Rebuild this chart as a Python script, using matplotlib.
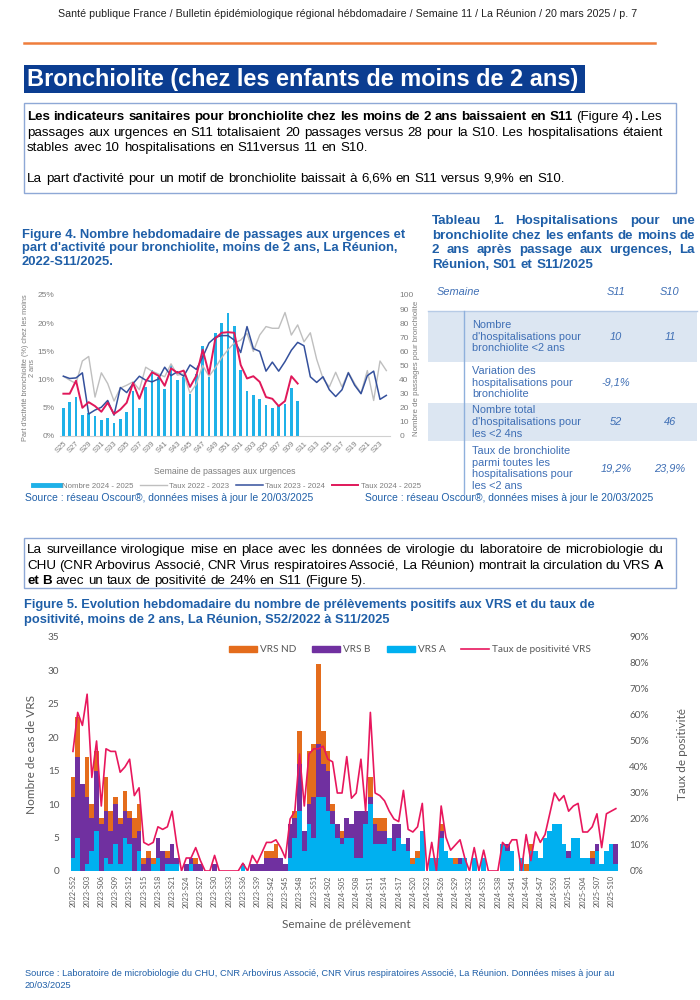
import numpy as np
import matplotlib
matplotlib.use("Agg")
import matplotlib.pyplot as plt
from matplotlib import font_manager
from matplotlib.patches import Rectangle, Patch
from matplotlib.lines import Line2D

avail = {f.name for f in font_manager.fontManager.ttflist}
NARROW = 'Liberation Sans Narrow' if 'Liberation Sans Narrow' in avail else 'Liberation Sans'
ARIAL = 'Liberation Sans'
CAL = 'Lato' if 'Lato' in avail else 'DejaVu Sans'

# ---------------- data : figure 4 ----------------
weeks4 = [f"S{w:02d}" for w in list(range(25, 53)) + list(range(1, 25))]
nb_2024_25 = [20, 24, 28, 15, 16, 14, 11, 13, 9, 12, 17, 32, 20, 35, 47, 42, 33, 50, 40, 42,
              30, 44, 64, 42, 73, 80, 87, 78, 47, 32, 29, 26, 22, 20, 21, 23, 34, 25]
taux_2022_23 = [10.6, 9.9, 9.3, 13.3, 14.1, 6.9, 11.2, 9.3, 6.2, 8.5, 9.0, 9.6, 8.2, 12.2,
                11.5, 11.0, 10.5, 12.8, 10.8, 11.0, 7.6, 9.2, 12.5, 10.6, 12.1, 13.9, 15.3, 16.5,
                17.0, 18.2, 15.0, 17.9, 19.4, 19.1, 19.1, 21.9, 17.9, 19.7, 16.7, 18.3, 13.6, 10.2,
                8.7, 11.3, 8.7, 11.3, 9.3, 7.6, 11.6, 6.3, 13.3, 11.6]
taux_2023_24 = [10.6, 10.2, 10.3, 11.2, 3.9, 4.6, 5.1, 6.3, 3.7, 8.6, 7.7, 9.3, 10.6, 9.9,
                9.6, 10.1, 12.2, 10.7, 11.4, 10.6, 12.6, 11.8, 14.0, 16.5, 17.5, 17.8, 17.8, 17.0,
                14.8, 19.4, 15.5, 15.0, 11.5, 13.1, 11.5, 13.2, 15.2, 16.6, 16.0, 10.5, 9.5, 10.5,
                8.2, 7.0, 8.2, 11.2, 9.0, 7.5, 10.7, 11.5, 6.5, 7.2]
taux_2024_25 = [7.5, 7.5, 9.8, 5.0, 6.0, 5.3, 4.3, 5.9, 3.9, 4.7, 5.9, 9.4, 6.6, 9.6,
                11.3, 10.7, 8.9, 12.0, 11.2, 11.6, 8.7, 10.7, 15.3, 11.0, 17.3, 18.3, 18.4, 18.3,
                12.6, 10.2, 10.6, 9.6, 6.9, 6.6, 5.3, 6.2, 10.6, 9.3]

# ---------------- data : tableau 1 ----------------
tab_rows = ["Nombre\nd'hospitalisations pour\nbronchiolite <2 ans",
            "Variation des\nhospitalisations pour\nbronchiolite",
            "Nombre total\nd'hospitalisations pour\nles <2 4ns",
            "Taux de bronchiolite\nparmi toutes les\nhospitalisations pour\nles <2 ans"]
tab_s11 = ["10", "-9,1%", "52", "19,2%"]
tab_s10 = ["11", "", "46", "23,9%"]

# ---------------- data : figure 5 ----------------
weeks5 = (["2022-S52"] + [f"2023-S{w:02d}" for w in range(1, 53)]
          + [f"2024-S{w:02d}" for w in range(1, 53)] + [f"2025-S{w:02d}" for w in range(1, 12)])
vrs_a = [2, 5, 0, 1, 3, 6, 0, 2, 1, 4,   1, 5, 4, 0, 3, 0, 0, 1, 2, 0,
         1, 1, 1, 0, 0, 1, 0, 0, 0, 0,   0, 0, 0, 0, 0, 0, 1, 0, 0, 0,
         0, 0, 0, 0, 0, 0, 2, 5, 9, 3,   7, 5, 11, 11, 9, 7, 5, 4, 5, 5,
         2, 2, 7, 10, 4, 4, 4, 5, 3, 5,  4, 3, 1, 2, 6, 0, 2, 2, 5, 3,
         2, 1, 1, 2, 0, 2, 0, 2, 0, 0,   0, 4, 3, 3, 0, 2, 0, 3, 3, 2,
         5, 6, 7, 7, 4, 2, 5, 5, 2, 2,   1, 3, 1, 3, 4, 1]
vrs_b = [9, 12, 13, 10, 5, 9, 7, 7, 5, 6,  6, 4, 4, 5, 3, 1, 2, 0, 3, 3,
         1, 3, 1, 0, 1, 1, 1, 1, 0, 0,   1, 0, 0, 0, 0, 0, 0, 0, 1, 1,
         1, 2, 2, 2, 2, 1, 5, 3, 7, 3,   3, 6, 8, 5, 6, 2, 2, 1, 3, 2,
         7, 7, 2, 1, 3, 2, 2, 0, 4, 2,   0, 2, 0, 0, 0, 0, 0, 0, 1, 0,
         0, 0, 1, 0, 0, 0, 0, 0, 0, 0,   0, 0, 1, 0, 0, 0, 0, 0, 0, 0,
         0, 0, 0, 0, 0, 1, 0, 0, 0, 0,   1, 1, 0, 0, 0, 3]
vrs_nd = [3, 6, 0, 6, 2, 3, 1, 5, 3, 1,  1, 3, 1, 3, 4, 1, 1, 1, 0, 0,
          1, 0, 0, 0, 0, 0, 1, 0, 0, 0,  0, 0, 0, 0, 0, 0, 0, 0, 0, 0,
          0, 1, 1, 2, 0, 0, 0, 1, 5, 0,  8, 8, 12, 5, 3, 1, 0, 1, 0, 0,
          0, 0, 0, 3, 1, 2, 2, 0, 0, 0,  0, 0, 1, 1, 0, 0, 0, 0, 1, 0,
          0, 1, 0, 0, 0, 0, 0, 0, 0, 0,  0, 0, 0, 0, 0, 0, 1, 1, 0, 0,
          0, 0, 0, 0, 0, 0, 0, 0, 0, 0,  1, 0, 0, 0, 0, 0]
taux_pos = [46, 61, 56, 68, 36, 50, 25, 47, 46, 46,  38, 40, 43, 29, 32, 11, 10, 11, 17, 16,
            17, 23, 10, 0, 5, 5, 9, 4, 0, 0,   6, 0, 0, 0, 0, 0, 3, 0, 6, 3,
            7, 11, 11, 12, 9, 5, 20, 23, 45, 25,   45, 47, 47, 48, 43, 42, 30, 30, 44, 28,
            30, 43, 23, 61, 30, 29, 27, 23, 20, 19,   31, 16, 15, 17, 26, 0, 11, 0, 25, 13,
            8, 10, 12, 5, 0, 9, 0, 8, 0, 0,   0, 11, 9, 12, 12, 0, 14, 4, 15, 11,
            14, 22, 30, 27, 29, 23, 25, 26, 15, 15,   17, 22, 9, 22, 23, 24]

# ---------------- page helpers ----------------
W, H = 700, 1000
fig = plt.figure(figsize=(7, 10), dpi=100)
R = fig.canvas.get_renderer()


def fx(x):
    return x / W


def fy(y):
    return 1 - y / H


def measure(s, size, weight='normal', family=ARIAL, style='normal'):
    t = fig.text(0, 0, s, fontsize=size, fontweight=weight, family=family, fontstyle=style)
    w = t.get_window_extent(R).width
    t.remove()
    return w


def fit(s, width, weight='normal', family=ARIAL, style='normal'):
    return 10 * width / measure(s, 10, weight, family, style)


def tok(s, weight='normal'):
    return [[(w, weight)] for w in s.split()]


def put_line(x0, yb, tokens, size, color, family, x1=None):
    ws = [sum(measure(t, size, wt, family) for t, wt in tk) for tk in tokens]
    if x1 is not None and len(tokens) > 1:
        gap = (x1 - x0 - sum(ws)) / (len(tokens) - 1)
    else:
        gap = measure('a a', size, family=family) - measure('aa', size, family=family)
    x = x0
    for tk, w in zip(tokens, ws):
        xx = x
        for t, wt in tk:
            fig.text(fx(xx), fy(yb), t, fontsize=size, fontweight=wt, family=family,
                     color=color, ha='left', va='baseline')
            xx += measure(t, size, wt, family)
        x += w + gap


BLUE_T = '#1f5fa8'

# header
hdr = "Santé publique France / Bulletin épidémiologique régional hébdomadaire / Semaine 11 / La Réunion / 20 mars 2025 / p. 7"
fig.text(fx(58), fy(17), hdr, fontsize=fit(hdr, 570, family=NARROW), family=NARROW,
         color='#222222', ha='left', va='baseline')
fig.add_artist(Line2D([fx(24), fx(655)], [fy(43), fy(43)], color='#ef7d3c', lw=1.8))

# title box
fig.add_artist(Rectangle((fx(24), fy(93)), fx(561), 28 / H, color='#0b3d91', lw=0))
ttl = "Bronchiolite (chez les enfants de moins de 2 ans)"
fig.text(fx(27), fy(86), ttl, fontsize=fit(ttl, 552, 'bold', NARROW), fontweight='bold',
         family=NARROW, color='white', ha='left', va='baseline')

# text box 1
fig.add_artist(Rectangle((fx(24), fy(193)), fx(652), 90 / H, fill=False, ec='#8ea8d6', lw=1))
l5 = "La part d'activité pour un motif de bronchiolite baissait à 6,6% en S11 versus 9,9% en S10."
bs = fit(l5, 540, family=NARROW)
line1 = (tok("Les indicateurs sanitaires pour bronchiolite chez les moins de 2 ans baissaient en S11", 'bold')
         + [[("(Figure", 'normal')], [("4)", 'normal'), (".", 'bold')], [("Les", 'normal')]])
put_line(27, 120, line1, bs, 'black', NARROW, x1=663)
put_line(27, 136, tok("passages aux urgences en S11 totalisaient 20 passages versus 28 pour la S10. Les hospitalisations étaient"),
         bs, 'black', NARROW, x1=663)
put_line(27, 151, tok("stables avec 10 hospitalisations en S11versus 11 en S10."), bs, 'black', NARROW)
put_line(27, 182, tok(l5), bs, 'black', NARROW)

# figure 4 title
f4 = ["Figure 4. Nombre hebdomadaire de passages aux urgences et",
      "part d'activité pour bronchiolite, moins de 2 ans, La Réunion,",
      "2022-S11/2025."]
s4 = fit(f4[1], 377, 'bold')
for i, l in enumerate(f4):
    fig.text(fx(22), fy(238 + 13.5 * i), l, fontsize=s4, fontweight='bold', family=ARIAL,
             color=BLUE_T, ha='left', va='baseline')

# tableau 1 title (justified)
t1 = ["Tableau 1. Hospitalisations pour une", "bronchiolite chez les enfants de moins de",
      "2 ans après passage aux urgences, La", "Réunion, S01 et S11/2025"]
st = fit(t1[3], 160, 'bold')
for i, l in enumerate(t1):
    put_line(432, 224 + 14.6 * i, tok(l, 'bold'), st, BLUE_T, ARIAL, x1=695 if i < 3 else None)

# table
TC = '#3f6fb5'
ts = fit("d'hospitalisations pour", 108)
fig.text(fx(437), fy(292), "Semaine", fontsize=ts, fontstyle='italic', color=TC, family=ARIAL, va='center')
fig.text(fx(616), fy(292), "S11", fontsize=ts, fontstyle='italic', color=TC, family=ARIAL, va='center', ha='center')
fig.text(fx(670), fy(292), "S10", fontsize=ts, fontstyle='italic', color=TC, family=ARIAL, va='center', ha='center')
bands = [(311, 362), (362, 403), (403, 441), (441, 492)]
for k, (a, b) in enumerate(bands):
    if k % 2 == 0:
        fig.add_artist(Rectangle((fx(428), fy(b)), fx(269), (b - a) / H, color='#dce6f2', lw=0))
    yc = (a + b) / 2 + (2 if k == 3 else 0)
    fig.text(fx(472), fy(yc), tab_rows[k], fontsize=ts, color=TC, family=ARIAL, va='center',
             ha='left', linespacing=1.22)
    fig.text(fx(616), fy(yc), tab_s11[k], fontsize=ts, fontstyle='italic', color=TC,
             family=ARIAL, va='center', ha='center')
    fig.text(fx(670), fy(yc), tab_s10[k], fontsize=ts, fontstyle='italic', color=TC,
             family=ARIAL, va='center', ha='center')
fig.add_artist(Line2D([fx(428), fx(697)], [fy(311), fy(311)], color='#b7cbe6', lw=1))
fig.add_artist(Line2D([fx(464), fx(464)], [fy(311), fy(494)], color='#8fb0dc', lw=1))

# figure 4 chart : bars on the right axis, rates on the left axis
ax4 = fig.add_axes([fx(60.2), fy(436), fx(329.3), (436 - 295) / H])
x4 = np.arange(len(weeks4))
ax4.bar(np.arange(len(nb_2024_25)), nb_2024_25, width=0.45, color='#1fb1e8', zorder=2)
ax4.set_ylim(0, 100)
ax4.set_xlim(-0.5, len(weeks4) - 0.5)
axl = ax4.twinx()
ax4.yaxis.tick_right()
ax4.yaxis.set_label_position('right')
axl.yaxis.tick_left()
axl.yaxis.set_label_position('left')
axl.plot(x4, taux_2022_23, color='#bfbfbf', lw=1.0)
axl.plot(x4, taux_2023_24, color='#34509c', lw=1.1)
axl.plot(np.arange(len(taux_2024_25)), taux_2024_25, color='#e0185a', lw=1.4)
axl.set_ylim(0, 25)
gs = 6.0
axl.set_yticks(range(0, 30, 5))
axl.set_yticklabels([f"{v}%" for v in range(0, 30, 5)])
ax4.set_yticks(range(0, 110, 10))
for axx in (ax4, axl):
    for s in axx.spines.values():
        s.set_visible(False)
    axx.tick_params(length=0, labelsize=gs, labelcolor='#7f7f7f')
ax4.spines['bottom'].set_visible(True)
ax4.spines['bottom'].set_color('#d0d0d0')
ax4.tick_params(axis='y', pad=7, labelleft=False, labelright=True)
axl.tick_params(axis='y', pad=4, labelleft=True, labelright=False)
ax4.set_xticks(x4[::2])
ax4.set_xticklabels(weeks4[::2], rotation=45, ha='right', rotation_mode='anchor', fontsize=5.5,
                    color='#7f7f7f', family=ARIAL)
ax4.tick_params(axis='x', pad=3)
for t in ax4.get_yticklabels() + axl.get_yticklabels():
    t.set_family(ARIAL)
yl = "Part d'activité bronchiolite (%) chez les moins"
fig.text(fx(29), fy(368), yl + "\n2 ans", rotation=90, fontsize=fit(yl, 150), color='#7f7f7f',
         family=ARIAL, ha='center', va='center', multialignment='center', linespacing=1.0)
yr = "Nombre de passages pour bronchiolite"
fig.text(fx(416), fy(368), yr, rotation=90, fontsize=fit(yr, 135), color='#7f7f7f',
         family=ARIAL, ha='center', va='center')
fig.text(fx(225), fy(472), "Semaine de passages aux urgences", fontsize=6.3, color='#7f7f7f',
         family=ARIAL, ha='center', va='center')
h4 = [Line2D([], [], color='#1fb1e8', lw=3.5), Line2D([], [], color='#bfbfbf', lw=1),
      Line2D([], [], color='#34509c', lw=1.1), Line2D([], [], color='#e0185a', lw=1.4)]
fig.legend(h4, ["Nombre 2024 - 2025", "Taux 2022 - 2023", "Taux 2023 - 2024", "Taux 2024 - 2025"],
           loc='center', bbox_to_anchor=(fx(227), fy(486)), ncol=4, frameon=False,
           prop={'family': ARIAL, 'size': 5.6}, labelcolor='#7f7f7f', handlelength=3.4,
           columnspacing=0.9, handletextpad=0.3)

src4 = "Source : réseau Oscour®, données mises à jour le 20/03/2025"
ss = fit(src4, 288)
fig.text(fx(25), fy(501), src4, fontsize=ss, color=BLUE_T, family=ARIAL, va='baseline')
fig.text(fx(365), fy(501), src4, fontsize=ss, color=BLUE_T, family=ARIAL, va='baseline')

# text box 2
fig.add_artist(Rectangle((fx(24), fy(588)), fx(652), 50 / H, fill=False, ec='#8ea8d6', lw=1))
put_line(27, 553, tok("La surveillance virologique mise en place avec les données de virologie du laboratoire de microbiologie du"),
         bs, 'black', NARROW, x1=663)
put_line(27, 569, tok("CHU (CNR Arbovirus Associé, CNR Virus respiratoires Associé, La Réunion) montrait la circulation du VRS")
         + [[("A", 'bold')]], bs, 'black', NARROW, x1=663)
put_line(27, 584, tok("et B", 'bold') + tok("avec un taux de positivité de 24% en S11 (Figure 5)."), bs, 'black', NARROW)

# figure 5 title
f5 = ["Figure 5. Evolution hebdomadaire du nombre de prélèvements positifs aux VRS et du taux de",
      "positivité, moins de 2 ans, La Réunion, S52/2022 à S11/2025"]
s5 = fit(f5[0], 575, 'bold', NARROW)
for i, l in enumerate(f5):
    fig.text(fx(24), fy(608 + 15 * i), l, fontsize=s5, fontweight='bold', family=NARROW,
             color=BLUE_T, ha='left', va='baseline')

# figure 5 chart
ax5 = fig.add_axes([fx(70.6), fy(871), fx(547.6), 234 / H])
x5 = np.arange(len(weeks5))
a = np.array(vrs_a)
b = np.array(vrs_b)
nd = np.array(vrs_nd)
ax5.bar(x5, a, width=1.0, color='#00b0f0', lw=0, label='VRS A')
ax5.bar(x5, b, width=1.0, bottom=a, color='#7030a0', lw=0, label='VRS B')
ax5.bar(x5, nd, width=1.0, bottom=a + b, color='#e46c1c', lw=0, label='VRS ND')
ax5.set_xlim(-0.5, len(weeks5) - 0.5)
ax5.set_ylim(0, 35)
ax5.set_yticks(range(0, 40, 5))
ax5r = ax5.twinx()
ax5r.plot(x5, taux_pos, color='#e8175d', lw=1.2)
ax5r.set_ylim(0, 90)
ax5r.set_yticks(range(0, 100, 10))
ax5r.set_yticklabels([f"{v}%" for v in range(0, 100, 10)])
GR = '#595959'
for axx in (ax5, ax5r):
    for s in axx.spines.values():
        s.set_visible(False)
    axx.tick_params(length=0, labelsize=7.2, labelcolor=GR)
    for t in axx.get_yticklabels():
        t.set_family(CAL)
ax5.tick_params(axis='y', pad=8)
ax5r.tick_params(axis='y', pad=8)
ax5.set_xticks(x5[::3])
ax5.set_xticklabels(weeks5[::3], rotation=90, fontsize=5.3, color=GR, family=CAL)
ax5.tick_params(axis='x', pad=3)
ax5.set_ylabel("Nombre de cas de VRS", fontsize=8.5, color=GR, family=CAL, labelpad=8)
ax5r.set_ylabel("Taux de positivité", fontsize=8.5, color=GR, family=CAL, labelpad=20)
fig.text(fx(346), fy(925), "Semaine de prélèvement", fontsize=8.5, color=GR, family=CAL,
         ha='center', va='center')
h5 = [Patch(color='#e46c1c'), Patch(color='#7030a0'), Patch(color='#00b0f0'),
      Line2D([], [], color='#e8175d', lw=1.2)]
fig.legend(h5, ["VRS ND", "VRS B", "VRS A", "Taux de positivité VRS"], loc='center',
           bbox_to_anchor=(fx(410), fy(650)), ncol=4, frameon=False,
           prop={'family': CAL, 'size': 7.2}, labelcolor=GR, handlelength=2.8, handleheight=0.6,
           columnspacing=1.6, handletextpad=0.3)

src5 = "Source : Laboratoire de microbiologie du CHU, CNR Arbovirus Associé, CNR Virus respiratoires Associé, La Réunion. Données mises à jour au"
s5s = fit(src5, 591)
fig.text(fx(25), fy(976), src5, fontsize=s5s, color=BLUE_T, family=ARIAL, va='baseline')
fig.text(fx(25), fy(988), "20/03/2025", fontsize=s5s, color=BLUE_T, family=ARIAL, va='baseline')

fig.savefig("out.png", dpi=100)
